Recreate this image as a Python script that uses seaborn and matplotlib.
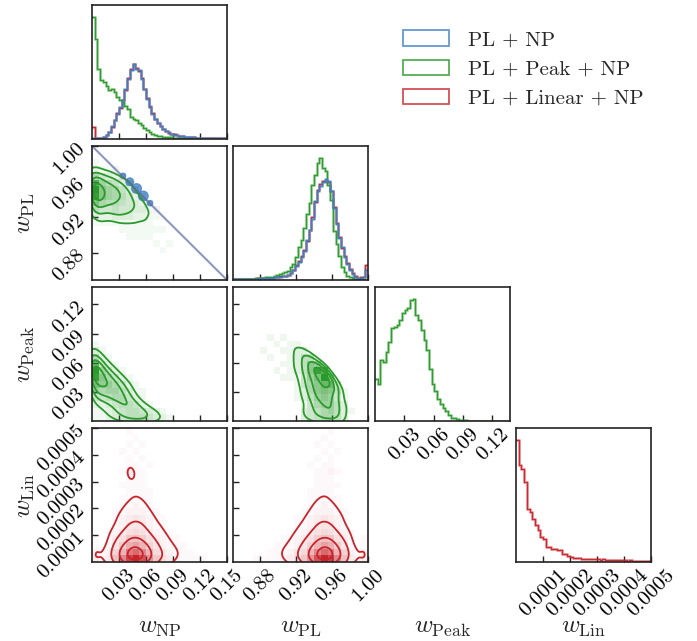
import numpy as np
import pandas as pd
import matplotlib
matplotlib.use("Agg")
import matplotlib.pyplot as plt
import seaborn as sns
from matplotlib.colors import LinearSegmentedColormap, to_rgba
from matplotlib.patches import Patch

sns.set_style("ticks")
plt.rcParams.update({
    "font.family": ["cmr10", "DejaVu Serif"],
    "mathtext.fontset": "cm",
    "axes.formatter.use_mathtext": True,
    "axes.unicode_minus": False,
})

# ---------------- labels / ranges / ticks ----------------
param_labels = [r"$w_{\rm NP}$", r"$w_{\rm PL}$", r"$w_{\rm Peak}$", r"$w_{\rm Lin}$"]
range_np = (0.0, 0.15)
range_pl = (0.85, 1.00)
range_peak = (0.0, 0.138)
range_lin = (0.0, 0.0005)
ticks_np = [0.03, 0.06, 0.09, 0.12, 0.15]
ticklabels_np = ["0.03", "0.06", "0.09", "0.12", "0.15"]
ticks_pl = [0.88, 0.92, 0.96, 1.00]
ticklabels_pl = ["0.88", "0.92", "0.96", "1.00"]
ticks_peak = [0.03, 0.06, 0.09, 0.12]
ticklabels_peak = ["0.03", "0.06", "0.09", "0.12"]
ticks_lin = [0.0001, 0.0002, 0.0003, 0.0004, 0.0005]
ticklabels_lin = ["0.0001", "0.0002", "0.0003", "0.0004", "0.0005"]

model_names = ["PL + NP", "PL + Peak + NP", "PL + Linear + NP"]
model_colors = ["#3f7fc3", "#2a9a2a", "#c8242b"]

# ---------------- 1D histogram bin heights (50 bins over each range) ----------------
hist_np_blue = [4, 3, 2, 4, 6, 11, 21, 38, 56, 76, 96, 116, 151, 181, 208, 226, 211, 206, 181, 151,
                121, 98, 76, 61, 48, 38, 31, 24, 20, 16, 13, 11, 9, 8, 7, 6, 5, 5, 4, 4,
                3, 3, 3, 2, 2, 2, 2, 2, 2, 2]
hist_np_green = [366, 301, 211, 176, 171, 158, 148, 151, 141, 126, 118, 111, 98, 91, 66, 61, 56, 48, 41, 34,
                 26, 20, 14, 11, 10, 8, 7, 6, 5, 5, 4, 4, 3, 3, 3, 2, 2, 2, 2, 1,
                 1, 1, 1, 1, 1, 1, 1, 1, 1, 1]
hist_np_red = [36, 4, 3, 4, 7, 12, 20, 36, 58, 78, 94, 118, 148, 183, 210, 224, 214, 203, 183, 150,
               123, 96, 78, 60, 47, 39, 30, 25, 19, 16, 14, 11, 10, 8, 7, 6, 6, 5, 4, 4,
               3, 3, 2, 3, 2, 2, 2, 2, 1, 2]
hist_pl_blue = [2, 2, 2, 3, 2, 3, 3, 3, 4, 4, 5, 5, 6, 6, 7, 8, 9, 10, 11, 13,
                15, 20, 30, 43, 55, 70, 88, 120, 150, 185, 240, 270, 285, 295, 305, 300, 268, 218, 168, 128,
                100, 70, 48, 30, 18, 10, 6, 7, 8, 30]
hist_pl_green = [2, 2, 3, 2, 3, 3, 4, 4, 5, 5, 6, 7, 8, 9, 10, 12, 14, 17, 20, 24,
                 28, 38, 48, 68, 100, 120, 158, 200, 233, 288, 318, 353, 368, 338, 328, 288, 243, 148, 108, 73,
                 38, 23, 13, 8, 5, 3, 2, 2, 1, 1]
hist_pl_red = [2, 3, 2, 2, 3, 3, 4, 3, 4, 5, 5, 6, 6, 7, 7, 8, 9, 11, 12, 13,
               16, 21, 29, 44, 57, 72, 90, 118, 152, 190, 236, 272, 290, 298, 300, 296, 270, 222, 172, 130,
               98, 72, 50, 32, 20, 11, 7, 8, 10, 45]
hist_peak_green = [125, 110, 180, 175, 205, 235, 275, 280, 285, 300, 320, 330, 335, 360, 362, 315, 300, 270, 240, 210,
                   155, 110, 90, 65, 50, 40, 30, 18, 10, 8, 5, 4, 3, 2, 1, 0, 0, 0, 0, 0,
                   0, 0, 0, 0, 0, 0, 0, 0, 0, 0]
hist_lin_red = [365, 290, 280, 240, 160, 150, 130, 110, 95, 75, 70, 45, 45, 40, 38, 35, 35, 25, 25, 17,
                15, 13, 12, 12, 10, 10, 9, 9, 8, 10, 8, 7, 9, 7, 6, 7, 6, 5, 6, 5,
                5, 4, 5, 4, 4, 4, 3, 4, 3, 3]

# ---------------- 2D density grids (20x20, top row = highest y, base-36 digits) ----------------
grid_np_pl_green = [
    "00000000000000000000", "00000000000000000000", "10000000000000000000", "21100000000000000000",
    "74321000000000000000", "E8653200000000000000", "IA875310000000000000", "HA876421000000000000",
    "B7665432000000000000", "64454433100000000000", "32233322110000000000", "11111111100000000000",
    "00001111111000000000", "00000111100000000000", "00000000010100000000", "00000000001000000000",
    "00000000000000000000", "00000000000000000000", "00000000000000000000", "00000000000000000000"]
grid_np_peak_green = [
    "0", "0", "0", "0", "0", "0", "0", "0",
    "10000000000000000000", "31000000000000000000", "62100000000000000000", "B4210000000000000000",
    "G7421000000000000000", "F9642100000000000000", "A8864210000000000000", "76775311000000000000",
    "44566421000000000000", "22345542100000000000", "11234554321000000000", "11234555432100000000"]
grid_pl_peak_green = [
    "0", "0", "0", "0", "0", "0", "0",
    "00000101000000000000", "00000010110000000000", "00001001122000000000", "00000100124400000000",
    "00000001124760000000", "000000101247CA000000", "0000000111368D600000", "00000000013579930000",
    "00000000012578741000", "00000000012467631000", "00000000001356642000", "00000000002345642100",
    "00000000002345542000"]
grid_np_lin_red = [
    "00000100000000000000", "00000010000000000000", "00000101000000000000", "00001010000000000000",
    "00000101000000000000", "00000110100000000000", "00001311000000000000", "00000111000000000000",
    "00001111000000000000", "00000111100000000000", "00001111100000000000", "00001121100000000000",
    "00011222110000000000", "00012343211000000000", "00012444211000000000", "00123565321100000000",
    "101359A8532110000000", "10148DFC742111000000", "2127CLOJC64211100000", "313AJUZSH95321111000"]
grid_pl_lin_red = [
    "00000000000000100000", "00000000000001000000", "00000000000010100000", "00000000000001010000",
    "00000000000010100000", "00000000000101100000", "00000000000011210000", "00000000000011100000",
    "00000000000011110000", "00000000000111100000", "00000000000111110000", "00000000000112110000",
    "00000000001122211000", "00000000011234321000", "00000000011244421000", "00000000112356532100",
    "0000000112358A953101", "000000111247CFD84101", "00000111246CJOLC7212", "00011112359HSZUJA313"]

# PL + NP / PL + Linear + NP samples lie on the w_NP + w_PL = 1 line
line_np = [0.0, 0.15]
line_pl = [1.0, 0.85]
diag_cells_np = [0.019, 0.026, 0.034, 0.041, 0.049, 0.056, 0.064, 0.071, 0.079]
diag_cells_pl = [0.981, 0.974, 0.966, 0.959, 0.951, 0.944, 0.936, 0.929, 0.921]
diag_cells_w = [1, 3, 6, 10, 12, 10, 6, 3, 1]
blob_np = [0.0345, 0.042, 0.0495, 0.057, 0.0645]
blob_pl = [0.9666, 0.960, 0.9524, 0.944, 0.936]
blob_size = [22, 34, 48, 48, 22]

contour_levels = [0.135, 0.325, 0.607, 0.882]

# ---------------- layout ----------------
W, H = 697, 641
fig = plt.figure(figsize=(W / 100, H / 100), dpi=100)
col_left = [92, 233, 375, 516]
row_top = [5, 146, 287, 428]
AW, AH = 135, 134


def make_ax(r, c):
    ax = fig.add_axes([col_left[c] / W, 1 - (row_top[r] + AH) / H, AW / W, AH / H])
    for s in ax.spines.values():
        s.set_linewidth(1.2)
        s.set_color("#222222")
    ax.tick_params(direction="in", length=4, width=1, labelsize=15, pad=3,
                   top=False, right=False, colors="#222222", labelcolor="black")
    return ax


def parse(rows):
    return np.array([[int(ch, 36) for ch in r.ljust(20, "0")] for r in rows], float)


def draw1d(ax, series, colors, rng):
    n = len(series[0])
    width = (rng[1] - rng[0]) / n
    centers = rng[0] + width * (np.arange(n) + 0.5)
    top = 0
    for counts, color in zip(series, colors):
        df = pd.DataFrame({"x": centers, "w": np.asarray(counts, float)})
        top = max(top, df["w"].max())
        sns.histplot(data=df, x="x", weights="w", bins=n, binrange=rng, element="step", fill=False,
                     color=color, linewidth=2.2, alpha=0.4, ax=ax)
        sns.histplot(data=df, x="x", weights="w", bins=n, binrange=rng, element="step", fill=False,
                     color=color, linewidth=0.9, alpha=0.95, ax=ax)
    ax.set_xlim(*rng)
    ax.set_ylim(0, 1.1 * top)
    ax.set_yticks([])
    ax.set_ylabel("")


def draw2d(ax, rows, xr, yr, color, bw=0.7):
    g = parse(rows)
    nr, nc = g.shape
    xe = np.linspace(xr[0], xr[1], nc + 1)
    ye = np.linspace(yr[0], yr[1], nr + 1)
    xc = 0.5 * (xe[:-1] + xe[1:])
    yc = 0.5 * (ye[:-1] + ye[1:])[::-1]
    X, Y = np.meshgrid(xc, yc)
    m = g > 0
    df = pd.DataFrame({"x": X[m], "y": Y[m], "w": g[m]})
    cmap = LinearSegmentedColormap.from_list("d", [to_rgba(color, 0.0), to_rgba(color, 1.0)])
    sns.histplot(data=df, x="x", y="y", weights="w", bins=(nc, nr),
                 binrange=(xr, yr), cmap=cmap, ax=ax)
    sns.kdeplot(data=df, x="x", y="y", weights="w", levels=contour_levels,
                color=color, linewidths=1.3, bw_adjust=bw, ax=ax)
    ax.set_xlim(*xr)
    ax.set_ylim(*yr)
    ax.set_xlabel("")
    ax.set_ylabel("")


ranges = [range_np, range_pl, range_peak, range_lin]
ticks = [ticks_np, ticks_pl, ticks_peak, ticks_lin]
tlabels = [ticklabels_np, ticklabels_pl, ticklabels_peak, ticklabels_lin]
blue, green, red = model_colors

axes = {}
for r in range(4):
    for c in range(r + 1):
        if (r, c) == (3, 2):
            continue
        axes[(r, c)] = make_ax(r, c)

# diagonal
draw1d(axes[(0, 0)], [hist_np_red, hist_np_green, hist_np_blue], [red, green, blue], range_np)
draw1d(axes[(1, 1)], [hist_pl_red, hist_pl_green, hist_pl_blue], [red, green, blue], range_pl)
draw1d(axes[(2, 2)], [hist_peak_green], [green], range_peak)
draw1d(axes[(3, 3)], [hist_lin_red], [red], range_lin)

# 2D panels
ax = axes[(1, 0)]
draw2d(ax, grid_np_pl_green, range_np, range_pl, green, bw=0.6)
cm_b = LinearSegmentedColormap.from_list("b", [to_rgba("#7f7fa8", 0.0), to_rgba("#7f7fa8", 0.45)])
diag_df = pd.DataFrame({"x": diag_cells_np, "y": diag_cells_pl, "w": diag_cells_w})
sns.histplot(data=diag_df, x="x", y="y", weights="w", bins=(20, 20),
             binrange=(range_np, range_pl), cmap=cm_b, ax=ax)
sns.lineplot(x=line_np, y=line_pl, color=blue, linewidth=1.6, alpha=0.6, ax=ax)
sns.lineplot(x=line_np, y=line_pl, color=red, linewidth=0.6, alpha=0.35, ax=ax)
blob_df = pd.DataFrame({"x": blob_np, "y": blob_pl, "s": blob_size})
sns.scatterplot(data=blob_df, x="x", y="y", size="s", sizes=(14, 48), legend=False,
                color=blue, edgecolor=blue, alpha=0.75, linewidth=1.0, ax=ax)
ax.set_xlim(*range_np)
ax.set_ylim(*range_pl)

draw2d(axes[(2, 0)], grid_np_peak_green, range_np, range_peak, green, bw=0.6)
draw2d(axes[(2, 1)], grid_pl_peak_green, range_pl, range_peak, green, bw=0.6)
draw2d(axes[(3, 0)], grid_np_lin_red, range_np, range_lin, red, bw=0.6)
draw2d(axes[(3, 1)], grid_pl_lin_red, range_pl, range_lin, red, bw=0.6)

# ticks
for (r, c), ax in axes.items():
    ax.set_xticks(ticks[c])
    if r == 3 or (r, c) == (2, 2):
        ax.set_xticklabels(tlabels[c], rotation=45)
    else:
        ax.set_xticklabels([])
    if r != c:
        ax.set_yticks(ticks[r])
        if c == 0:
            ax.set_yticklabels(tlabels[r], rotation=45)
        else:
            ax.set_yticklabels([])
    ax.set_xlim(*ranges[c])
    if r != c:
        ax.set_ylim(*ranges[r])
    ax.set_xlabel("")
    ax.set_ylabel("")

# axis labels
xlab_x = [159.5, 300.5, 442.5, 583.5]
for c in range(4):
    fig.text(xlab_x[c] / W, 1 - 628 / H, param_labels[c], ha="center", va="center", fontsize=18)
ylab_y = [213, 354, 495]
for i, r in enumerate([1, 2, 3]):
    fig.text(26 / W, 1 - ylab_y[i] / H, param_labels[r], ha="center", va="center",
             rotation=90, fontsize=18)

# legend
handles = [Patch(facecolor="none", edgecolor=to_rgba(col, 0.8), linewidth=1.3) for col in model_colors]
fig.legend(handles, model_names, loc="upper left", bbox_to_anchor=(395 / W, 1 - 22 / H),
           frameon=False, fontsize=15, handlelength=2.2, handleheight=0.75,
           labelspacing=0.5, handletextpad=0.9, borderaxespad=0)

fig.savefig("out.png", dpi=100)
